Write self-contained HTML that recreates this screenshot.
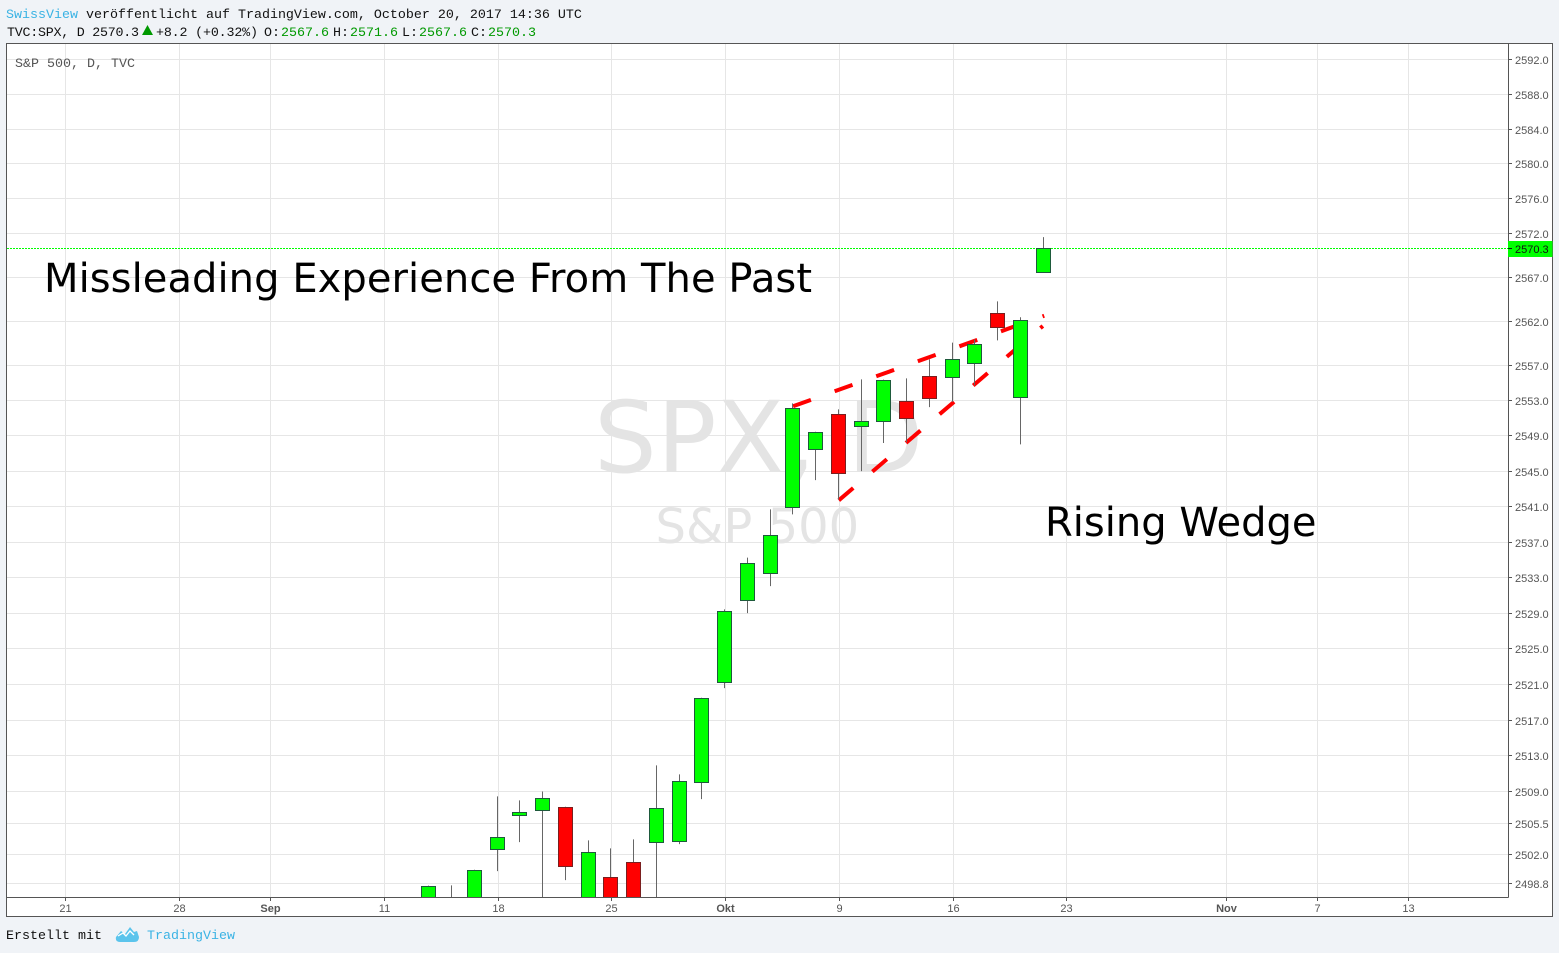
<!DOCTYPE html>
<html lang="de">
<head>
<meta charset="utf-8">
<title>S&amp;P 500 Chart</title>
<style>
html,body{margin:0;padding:0;background:#f0f3f7;}
body{width:1559px;height:953px;overflow:hidden;position:relative;}
svg{position:absolute;left:0;top:0;display:block;}
.mono{font-family:"Liberation Mono",monospace;font-size:13.33px;}
.axis{font-family:"Liberation Sans",sans-serif;font-size:11px;fill:#555;}
.note{font-family:"DejaVu Sans",sans-serif;fill:#000;}
.mark{font-family:"DejaVu Sans",sans-serif;fill:#e4e4e4;}
</style>
</head>
<body>
<svg id="chart" width="1559" height="953" viewBox="0 0 1559 953" xmlns="http://www.w3.org/2000/svg">
  <defs><clipPath id="pane-clip"><rect x="7" y="44" width="1501" height="853"/></clipPath></defs>

  <text class="mono" x="6" y="18"><tspan fill="#3bb3e4">SwissView</tspan><tspan fill="#111"> veröffentlicht auf TradingView.com, October 20, 2017 14:36 UTC</tspan></text>

  <g class="mono">
    <text x="7" y="36" fill="#111" textLength="132">TVC:SPX, D 2570.3</text>
    <polygon points="147.5,25 153,35 142,35" fill="#090"/>
    <text x="156" y="36" fill="#111" textLength="102">+8.2 (+0.32%)</text>
    <text x="264" y="36" fill="#111">O:</text>
    <text x="281" y="36" fill="#090">2567.6</text>
    <text x="333" y="36" fill="#111">H:</text>
    <text x="350" y="36" fill="#090">2571.6</text>
    <text x="402" y="36" fill="#111">L:</text>
    <text x="419" y="36" fill="#090">2567.6</text>
    <text x="471" y="36" fill="#111">C:</text>
    <text x="488" y="36" fill="#090">2570.3</text>
  </g>

  <rect x="6.5" y="43.5" width="1546" height="873" fill="#fff" stroke="none"/>

  <g id="grid"></g>

  <text class="mark" x="594" y="472" font-size="99">SPX, D</text>
  <text class="mark" x="655.5" y="543" font-size="48">S&amp;P 500</text>

  <text class="mono" x="15" y="67" fill="#555">S&amp;P 500, D, TVC</text>

  <g id="wedge" clip-path="url(#pane-clip)"></g>
  <line id="last-price-line" x1="7" x2="1508" stroke="#00ff00" stroke-width="1" stroke-dasharray="2 1"/>
  <g id="candles" clip-path="url(#pane-clip)"></g>

  <text class="note" x="44" y="292" font-size="40" textLength="768">Missleading Experience From The Past</text>
  <text class="note" x="1045" y="536" font-size="40">Rising Wedge</text>

  <g id="y-axis"></g>
  <g id="x-axis"></g>

  <rect x="6.5" y="43.5" width="1546" height="873" fill="none" stroke="#555" stroke-width="1"/>
  <line x1="1508.5" x2="1508.5" y1="44" y2="897.5" stroke="#555" stroke-width="1"/>
  <line x1="7" x2="1508.5" y1="897.5" y2="897.5" stroke="#555" stroke-width="1"/>

  <g id="last-price-tag"></g>

  <text class="mono" x="6" y="939" fill="#111">Erstellt mit</text>
  <g>
    <path d="M116 937 L121 931 L125 934 L130 927 L134 932 L137 931 L139 937 Q139 942 134 942 L120 942 Q115 942 116 937 Z" fill="#5bc4ec"/>
    <path d="M118 936 L123 933 L126 936 L130 931 L134 935" fill="none" stroke="#fff" stroke-width="1.3"/>
  </g>
  <text class="mono" x="147" y="939" fill="#3bb3e4">TradingView</text>
</svg>

<script>
// Price axis ticks
const priceTicks = [2592, 2588, 2584, 2580, 2576, 2572, 2567, 2562, 2557, 2553, 2549, 2545, 2541, 2537, 2533, 2529, 2525, 2521, 2517, 2513, 2509, 2505.5, 2502, 2498.8];
// Time axis ticks: trading-bar index and label
const timeTickBars = [0, 5, 9, 14, 19, 24, 29, 34, 39, 44, 51, 55, 59];
const timeTickLabels = ['21', '28', 'Sep', '11', '18', '25', 'Okt', '9', '16', '23', 'Nov', '7', '13'];
const boldTimeLabels = ['Sep', 'Okt', 'Nov'];
// Candles
const barIndex = [16, 17, 18, 19, 20, 21, 22, 23, 24, 25, 26, 27, 28, 29, 30, 31, 32, 33, 34, 35, 36, 37, 38, 39, 40, 41, 42, 43];
const openPrices = [2496.5, 2496.5, 2496.8, 2502.66, 2506.4, 2506.96, 2507.34, 2496.7, 2499.56, 2501.23, 2503.45, 2503.55, 2510.13, 2521.26, 2530.51, 2533.54, 2540.94, 2547.5, 2551.5, 2550.1, 2550.66, 2552.98, 2555.74, 2555.66, 2557.25, 2562.96, 2553.41, 2567.6];
const highPrices = [2498.56, 2498.59, 2500.33, 2508.49, 2508.05, 2509.04, 2507.34, 2503.59, 2502.7, 2503.7, 2511.95, 2510.94, 2519.51, 2529.41, 2535.24, 2540.68, 2552.67, 2549.46, 2551.99, 2555.4, 2555.36, 2555.51, 2557.67, 2559.57, 2559.94, 2564.27, 2562.45, 2571.6];
const lowPrices = [2496, 2495, 2496, 2500.18, 2503.4, 2496, 2499.18, 2496, 2496, 2495, 2496, 2503.18, 2508.19, 2520.58, 2528.99, 2532.03, 2540.11, 2543.98, 2541.81, 2545, 2548.18, 2548.26, 2552.25, 2552.82, 2554.71, 2559.83, 2548.03, 2567.6];
const closePrices = [2498.56, 2496.8, 2500.33, 2504, 2506.79, 2508.35, 2500.74, 2502.34, 2496.7, 2496.9, 2507.18, 2510.24, 2519.51, 2529.27, 2534.67, 2537.83, 2552.19, 2549.46, 2544.78, 2550.71, 2555.36, 2551.01, 2553.27, 2557.75, 2559.46, 2561.34, 2562.1, 2570.3];
const lastPrice = 2570.3;
// Rising wedge drawing: [bar, price] anchors
const wedgeUpperBars = [32.02, 43.06];
const wedgeUpperPrices = [2552.34, 2562.63];
const wedgeLowerBars = [34.03, 43];
const wedgeLowerPrices = [2541.7, 2561.46];

const SVGNS = 'http://www.w3.org/2000/svg';
function xScale(bar) { return 64.6 + 22.75 * bar; }
function yScale(price) { return 59.2 + 22510 * Math.log(2592 / price); }
function gridY(price) { return Math.floor(59.5 + 22500 * Math.log(2592 / price)) + 0.5; }
function crispY(price) { return Math.floor(yScale(price) + 0.5) + 0.5; }
function make(tag, attrs, parent) {
  const el = document.createElementNS(SVGNS, tag);
  for (const k in attrs) el.setAttribute(k, attrs[k]);
  parent.appendChild(el);
  return el;
}

const gridG = document.getElementById('grid');
const yAxisG = document.getElementById('y-axis');
const xAxisG = document.getElementById('x-axis');
const candlesG = document.getElementById('candles');
const wedgeG = document.getElementById('wedge');
const tagG = document.getElementById('last-price-tag');

priceTicks.forEach(function (p) {
  const y = gridY(p);
  const g = make('line', { x1: 7, x2: 1508, y1: y, y2: y, stroke: '#e6e6e6', 'stroke-width': 1 }, gridG);
  
  
  const t = make('line', { x1: 1508, x2: 1512, y1: y, y2: y, stroke: '#555', 'stroke-width': 1 }, yAxisG);
  
  
  const l = make('text', { x: 1515, y: y + 4.5, class: 'axis' }, yAxisG);
  l.textContent = p.toFixed(1);
  
  
});

timeTickBars.forEach(function (b, i) {
  const x = Math.floor(xScale(b) + 1.3) + 0.5;
  const g = make('line', { x1: x, x2: x, y1: 44, y2: 897, stroke: '#e6e6e6', 'stroke-width': 1 }, gridG);
  
  
  const t = make('line', { x1: x, x2: x, y1: 897, y2: 901, stroke: '#555', 'stroke-width': 1 }, xAxisG);
  
  
  const l = make('text', { x: x, y: 912, class: 'axis', 'text-anchor': 'middle' }, xAxisG);
  l.textContent = timeTickLabels[i];
  if (boldTimeLabels.indexOf(timeTickLabels[i]) >= 0) l.setAttribute('font-weight', 'bold');
  
  
});

function drawWedge(bars, prices, name) {
  const ln = make('line', {
    x1: xScale(bars[0]), y1: yScale(prices[0]),
    x2: xScale(bars[1]), y2: yScale(prices[1]),
    stroke: '#ff0000', 'stroke-width': 4, 'stroke-dasharray': '19 25.2'
  }, wedgeG);
  
  
}
drawWedge(wedgeUpperBars, wedgeUpperPrices, 'wedge-upper-line');
drawWedge(wedgeLowerBars, wedgeLowerPrices, 'wedge-lower-line');

barIndex.forEach(function (b, i) {
  const x = Math.floor(xScale(b) + 0.3) + 0.5;
  const o = openPrices[i], h = highPrices[i], l = lowPrices[i], c = closePrices[i];
  const up = c >= o;
  const wick = make('line', { x1: x, x2: x, y1: yScale(h), y2: yScale(l), stroke: '#666', 'stroke-width': 1 }, candlesG);
  
  
  const top = crispY(Math.max(o, c));
  const bottom = crispY(Math.min(o, c));
  const body = make('rect', {
    x: x - 7, y: top, width: 14, height: Math.max(bottom - top, 1),
    fill: up ? '#00ff00' : '#ff0000',
    stroke: up ? '#1e5a3c' : '#7a1f1f',
    'stroke-width': 1
  }, candlesG);
  
  
});

const lastY = crispY(lastPrice);
const lastLine = document.getElementById('last-price-line');
lastLine.setAttribute('y1', lastY);
lastLine.setAttribute('y2', lastY);
const tagBox = make('rect', { x: 1508, y: lastY - 7.5, width: 44.5, height: 16, fill: '#00ff00' }, tagG);


const tagTick = make('line', { x1: 1508, x2: 1512, y1: lastY, y2: lastY, stroke: '#111', 'stroke-width': 1 }, tagG);


const tagText = make('text', { x: 1515, y: lastY + 4.5, class: 'axis' }, tagG);
tagText.style.fill = '#111';
tagText.textContent = lastPrice.toFixed(1);


</script>
</body>
</html>
